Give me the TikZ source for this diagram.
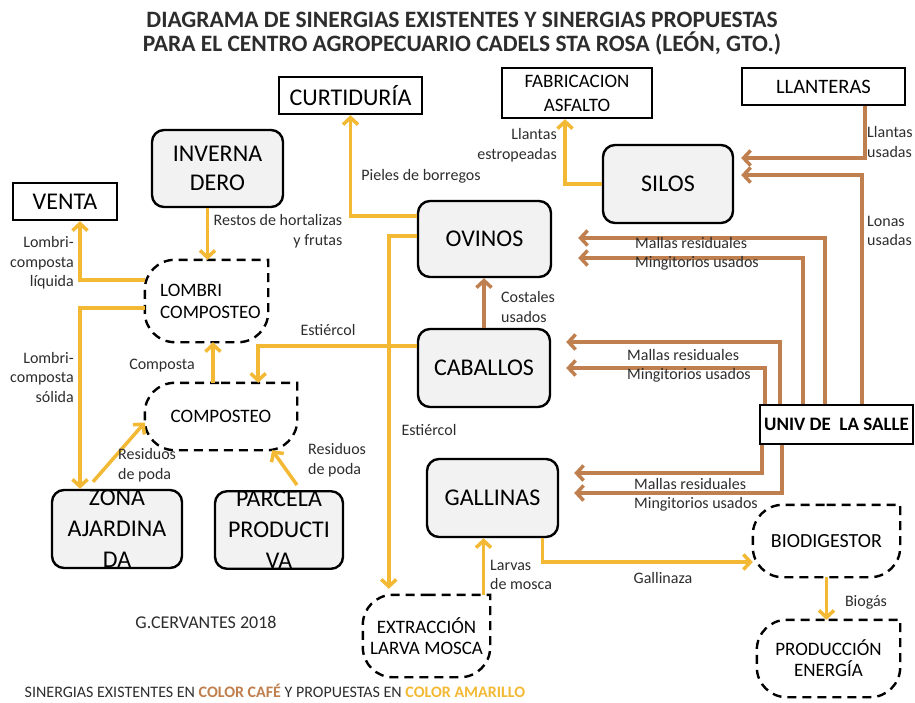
\documentclass[tikz,border=0pt]{standalone}
\usepackage{fontspec}
\setmainfont{Carlito}
\usetikzlibrary{arrows.meta}
\definecolor{amarillo}{RGB}{243,185,52}
\definecolor{cafe}{RGB}{191,127,78}
\definecolor{grisclaro}{RGB}{242,242,242}
\definecolor{texto}{RGB}{45,45,45}
% contorno punteado de los procesos propuestos
\newcommand{\nubeborde}[1]{%
  \draw[nube] (#1.north) -- (#1.north east) -- (#1.east) [rounded corners=30pt]
    -- (#1.south east) -- (#1.south west) -- (#1.north west) -- (#1.north);}
\begin{document}
\begin{tikzpicture}[x=1pt,y=-1pt,
  granja/.style={draw,line width=2.4pt,rounded corners=12pt,fill=grisclaro,align=center,inner sep=0pt,font=\fontsize{24}{29}\selectfont},
  caja/.style={draw,line width=2.4pt,fill=white,align=center,inner sep=0pt,font=\fontsize{24}{26}\selectfont},
  nube/.style={black,line width=2.4pt,dash pattern=on 9pt off 6pt},
  nubetxt/.style={align=center,inner sep=0pt,font=\fontsize{19}{21}\selectfont},
  etiq/.style={text=texto,inner sep=0pt,font=\fontsize{16}{19.5}\selectfont},
  prop/.style={amarillo,line width=3.5pt,-{Straight Barb[length=7pt,width=15pt]}},
  exis/.style={cafe,line width=3.5pt,-{Straight Barb[length=7pt,width=15pt]}}]
\useasboundingbox (0,0) rectangle (915,702);

\node[font=\bfseries\fontsize{23.5}{24}\selectfont,align=center,text=texto] (titulo) at (462,34)
  {DIAGRAMA DE SINERGIAS EXISTENTES Y SINERGIAS PROPUESTAS\\PARA EL CENTRO AGROPECUARIO CADELS STA ROSA (LEÓN, GTO.)};

% destinos
\node[caja,minimum width=143pt,minimum height=37pt] (curt) at (350.5,95.5) {CURTIDURÍA};
\node[caja,minimum width=150pt,minimum height=50pt,font=\fontsize{19}{24}\selectfont] (fab) at (577,93) {FABRICACION\\ASFALTO};
\node[caja,minimum width=163pt,minimum height=37pt,font=\fontsize{20.5}{24}\selectfont] (llan) at (823.5,86.5) {LLANTERAS};
\node[caja,minimum width=104pt,minimum height=37pt] (venta) at (65,201.5) {VENTA};
\node[caja,minimum width=153pt,minimum height=39pt,font=\bfseries\fontsize{19}{24}\selectfont] (univ) at (836.5,424.5) {UNIV DE\ \ LA SALLE};

% areas del centro
\node[granja,minimum width=131pt,minimum height=77pt] (inv) at (217.5,168.5) {INVERNA\\DERO};
\node[granja,minimum width=130pt,minimum height=78pt] (silos) at (668,184) {SILOS};
\node[granja,minimum width=133pt,minimum height=76pt] (ovi) at (484.5,239) {OVINOS};
\node[granja,minimum width=132pt,minimum height=78pt] (cab) at (484,368) {CABALLOS};
\node[granja,minimum width=131pt,minimum height=78pt] (gall) at (492.5,498) {GALLINAS};
\node[granja,minimum width=130pt,minimum height=78pt,font=\fontsize{24}{31}\selectfont] (zona) at (117,529) {ZONA\\AJARDINA\\DA};
\node[granja,minimum width=128pt,minimum height=76pt,font=\fontsize{24}{31}\selectfont] (parc) at (279,530) {PARCELA\\PRODUCTI\\VA};

% procesos propuestos
\node[nubetxt,align=left,minimum width=123pt,minimum height=82pt,font=\fontsize{19}{22}\selectfont] (lombri) at (206.5,301) {\hspace*{8pt}LOMBRI\\\hspace*{8pt}COMPOSTEO};
\nubeborde{lombri}
\node[nubetxt,minimum width=152pt,minimum height=67pt] (compost) at (221,416.5) {COMPOSTEO};
\nubeborde{compost}
\node[nubetxt,minimum width=147pt,minimum height=72pt,font=\fontsize{20}{22}\selectfont] (biod) at (826.5,541) {BIODIGESTOR};
\nubeborde{biod}
\node[nubetxt,minimum width=127pt,minimum height=82pt] (extr) at (426.5,636) {EXTRACCIÓN\\LARVA MOSCA};
\nubeborde{extr}
\node[nubetxt,minimum width=143pt,minimum height=77pt] (prod) at (828.5,658.5) {PRODUCCIÓN\\ENERGÍA};
\nubeborde{prod}

\node[text=texto,font=\fontsize{18}{20}\selectfont] (autor) at (206,622) {G.CERVANTES 2018};
\node[text=texto,font=\fontsize{16}{18}\selectfont] (pie) at (275,691)
  {SINERGIAS EXISTENTES EN \textcolor{cafe}{\bfseries COLOR CAFÉ} Y PROPUESTAS EN \textcolor{amarillo}{\bfseries COLOR AMARILLO}};

% sinergias propuestas
\draw[prop] ([yshift=-16pt]ovi.north west) -| (curt.south);
\draw[prop] ([yshift=-36pt]ovi.north west) -| ([xshift=26pt,yshift=6pt]extr.north west);
\draw[prop] ([yshift=-18pt]cab.north west) -| ([xshift=-39pt]compost.north east);
\draw[prop] ([xshift=-10pt]inv.south) -- ([xshift=-10pt]inv.south |- lombri.north);
\draw[prop] ([yshift=-20pt]lombri.north west) -| ([xshift=15pt]venta.south);
\draw[prop] ([yshift=-48pt]lombri.north west) -| ([xshift=-37pt]zona.north);
\draw[prop] ([xshift=-8pt]compost.north) -- ([xshift=-8pt]compost.north |- lombri.south);
\draw[prop] ([xshift=-24pt,yshift=7pt]zona.north) -- ([yshift=-6pt]compost.west);
\draw[prop] ([xshift=18pt,yshift=5pt]parc.north) -- ([xshift=-25pt]compost.south east);
\draw[prop] (silos.west) -| ([xshift=-12pt]fab.south);
\draw[prop] ([xshift=-9pt]gall.south |- extr.north) -- ([xshift=-9pt]gall.south);
\draw[prop] ([xshift=50pt]gall.south) |- ([yshift=-21pt]biod.west);
\draw[prop] (biod.south) -- (biod.south |- prod.north);

% sinergias existentes
\draw[exis] (cab.north) -- (cab.north |- ovi.south);
\draw[exis] ([xshift=41.5pt]llan.south) |- ([xshift=7pt,yshift=26pt]silos.east);
\draw[exis] ([xshift=25.5pt]univ.north) |- ([xshift=7pt,yshift=9pt]silos.east);
\draw[exis] ([xshift=-11.5pt]univ.north) |- ([xshift=26pt,yshift=1pt]ovi.east);
\draw[exis] ([xshift=-33.5pt]univ.north) |- ([xshift=26pt,yshift=-19pt]ovi.east);
\draw[exis] ([xshift=-56.5pt]univ.north) |- ([xshift=15pt,yshift=26pt]cab.east);
\draw[exis] ([xshift=-71.5pt]univ.north) |- ([xshift=15pt]cab.east);
\draw[exis] ([xshift=-74.5pt]univ.south) |- ([xshift=15pt,yshift=25pt]gall.east);
\draw[exis] ([xshift=-54.5pt]univ.south) |- ([xshift=15pt,yshift=5pt]gall.east);

% etiquetas
\node[etiq] (lpieles) at (421,176) {Pieles de borregos};
\node[etiq] (lest1) at (328,330) {Estiércol};
\node[etiq] (lest2) at (429,430) {Estiércol};
\node[etiq,align=right] (lrestos) at (278,231) {Restos de hortalizas\\y frutas};
\node[etiq,align=right,anchor=east] (lliq) at (74,263) {Lombri-\\composta\\líquida};
\node[etiq,align=right,anchor=east] (lsol) at (74,377) {Lombri-\\composta\\sólida};
\node[etiq] (lcomposta) at (162,366) {Composta};
\node[etiq,align=left,anchor=west] (lres1) at (118,465) {Residuos\\de poda};
\node[etiq,align=left,anchor=west] (lres2) at (308,460) {Residuos\\de poda};
\node[etiq,align=right,anchor=east] (lestrop) at (557,145) {Llantas\\estropeadas};
\node[etiq,align=left,anchor=west] (lllantas) at (867,142) {Llantas\\usadas};
\node[etiq,align=left,anchor=west] (llonas) at (867,231) {Lonas\\usadas};
\node[etiq,align=left,anchor=west] (lmallas1) at (635,254) {Mallas residuales\\Mingitorios usados};
\node[etiq,align=left,anchor=west] (lmallas2) at (627,366) {Mallas residuales\\Mingitorios usados};
\node[etiq,align=left,anchor=west] (lmallas3) at (634,495) {Mallas residuales\\Mingitorios usados};
\node[etiq,align=left,anchor=west] (lcostales) at (501,307) {Costales\\usados};
\node[etiq,align=left,anchor=west] (llarvas) at (490,575) {Larvas\\de mosca};
\node[etiq] (lgallinaza) at (663,578) {Gallinaza};
\node[etiq] (lbiogas) at (866,602) {Biogás};
\end{tikzpicture}
\end{document}
